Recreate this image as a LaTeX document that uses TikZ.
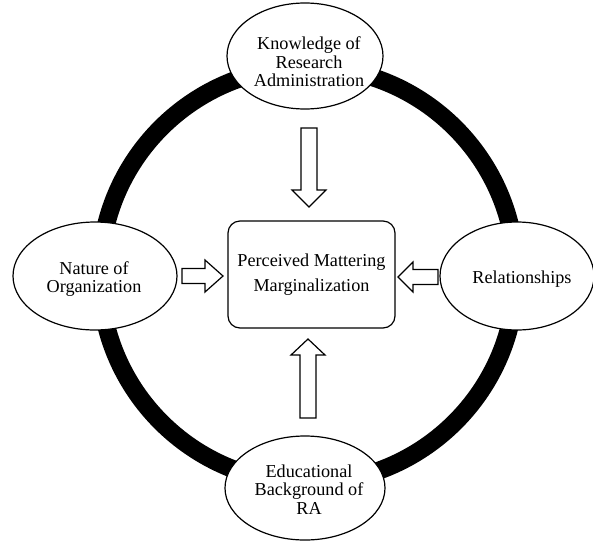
\documentclass[tikz,border=0pt]{standalone}
\usepackage{fontspec}
\setmainfont{Liberation Serif}
\usetikzlibrary{shapes.geometric}
\tikzset{
  ell/.style={draw=black, line width=1.2pt, fill=white, ellipse, inner sep=0pt},
  txt/.style={align=center, inner sep=0pt, font=\fontsize{18.2}{18.5}\selectfont},
  box/.style={draw=black, line width=1.2pt, fill=white, rounded corners=12pt, align=center, inner sep=0pt,
              font=\fontsize{18.2}{25}\selectfont},
  blk/.style={draw=black, line width=1.2pt, fill=white, line join=miter},
  ring/.style={draw=black, line width=18pt}
}
\begin{document}
\begin{tikzpicture}[x=1pt,y=-1pt]
\useasboundingbox (0,0) rectangle (593,544);
\fill[white] (0,0) rectangle (593,544);
% ring
\coordinate (c) at (308,275);
\draw[ring] (c) circle[radius=208pt];
% ellipses
\node[ell, minimum width=156pt, minimum height=106pt] (top) at (305,56) {};
\node[ell, minimum width=164pt, minimum height=108pt] (left) at (95,276) {};
\node[ell, minimum width=154pt, minimum height=108pt] (right) at (517,276) {};
\node[ell, minimum width=160pt, minimum height=104pt] (bot) at (305,488) {};
\node[txt] (toptxt) at (309,62) {Knowledge of\\Research\\Administration};
\node[txt] (lefttxt) at (94,279) {Nature of\\Organization};
\node[txt] (righttxt) at (522,279) {Relationships};
\node[txt] (bottxt) at (309,489.5) {Educational\\Background of\\RA};
% central box
\node[box, minimum width=167pt, minimum height=107pt] (pm) at (311.5,274.5) {Perceived Mattering\\Marginalization};
% block arrows
\draw[blk] (301,128) -- (317,128) -- (317,190) -- (326,190) -- (309,207) -- (292,190) -- (301,190) -- cycle;
\draw[blk] (300,418) -- (316,418) -- (316,355) -- (325,355) -- (308,339) -- (291,355) -- (300,355) -- cycle;
\draw[blk] (182,268.5) -- (205,268.5) -- (205,260) -- (223,276) -- (205,292) -- (205,283.5) -- (182,283.5) -- cycle;
\draw[blk] (438,269.5) -- (413,269.5) -- (413,262) -- (398,277) -- (413,292) -- (413,284.5) -- (438,284.5) -- cycle;
\end{tikzpicture}
\end{document}
